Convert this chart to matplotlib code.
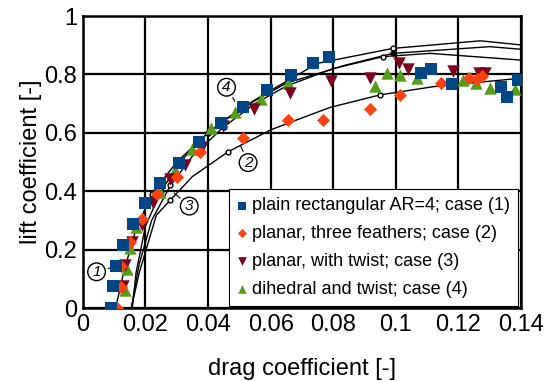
import numpy as np
import matplotlib
matplotlib.use("Agg")
import matplotlib.pyplot as plt

plt.rcParams['font.family'] = ['Liberation Sans', 'DejaVu Sans']

blue_x = [0.009, 0.0095, 0.0106, 0.0129, 0.0161, 0.0198, 0.0247, 0.0308, 0.0372, 0.0441,
          0.0512, 0.0588, 0.0665, 0.0736, 0.0787, 0.108, 0.1111, 0.118, 0.1336, 0.1354, 0.1389]
blue_y = [0.0, 0.074, 0.145, 0.217, 0.288, 0.358, 0.428, 0.498, 0.570, 0.633,
          0.689, 0.745, 0.798, 0.840, 0.861, 0.804, 0.817, 0.766, 0.756, 0.722, 0.781]

orange_x = [0.011, 0.0122, 0.0122, 0.0150, 0.0188, 0.0238, 0.030, 0.0374, 0.0512, 0.0654,
            0.0768, 0.0917, 0.1013, 0.1143, 0.1234, 0.126, 0.1274]
orange_y = [0.0, 0.072, 0.143, 0.225, 0.306, 0.389, 0.45, 0.533, 0.583, 0.644,
            0.644, 0.680, 0.729, 0.772, 0.789, 0.785, 0.796]

maroon_x = [0.0127, 0.0135, 0.0158, 0.019, 0.0225, 0.0278, 0.0325, 0.038, 0.0449, 0.0548,
            0.0662, 0.0793, 0.0917, 0.1010, 0.104, 0.1184, 0.1264, 0.1285]
maroon_y = [0.077, 0.147, 0.227, 0.284, 0.358, 0.442, 0.49, 0.55, 0.625, 0.682,
            0.735, 0.778, 0.789, 0.838, 0.817, 0.812, 0.804, 0.804]

green_x = [0.0135, 0.0140, 0.0150, 0.0170, 0.0246, 0.0293, 0.0349, 0.0411, 0.0486, 0.0570,
           0.0656, 0.0933, 0.0973, 0.1013, 0.1069, 0.1214, 0.1255, 0.1301, 0.1381]
green_y = [0.062, 0.132, 0.204, 0.277, 0.398, 0.471, 0.545, 0.615, 0.672, 0.715,
           0.770, 0.760, 0.804, 0.798, 0.787, 0.781, 0.772, 0.752, 0.749]

labels = ["plain rectangular AR=4; case (1)",
          "planar, three feathers; case (2)",
          "planar, with twist; case (3)",
          "dihedral and twist; case (4)"]

# old reference polars drawn in the background
ca_x = [0.0105, 0.013, 0.017, 0.022, 0.03, 0.04, 0.05, 0.06, 0.075, 0.099, 0.127, 0.14]
ca_y = [0.0, 0.12, 0.27, 0.39, 0.5, 0.6, 0.68, 0.745, 0.838, 0.889, 0.915, 0.901]
cb_x = [0.0155, 0.017, 0.02, 0.025, 0.031, 0.04, 0.05, 0.065, 0.084, 0.099, 0.13, 0.14]
cb_y = [-0.03, 0.12, 0.28, 0.40, 0.5, 0.6, 0.68, 0.77, 0.832, 0.872, 0.895, 0.886]
cc_x = [0.0155, 0.018, 0.022, 0.028, 0.035, 0.045, 0.055, 0.065, 0.08, 0.096, 0.111, 0.14]
cc_y = [0.0, 0.15, 0.30, 0.42, 0.52, 0.62, 0.70, 0.76, 0.82, 0.861, 0.872, 0.849]
c2_x = [0.0155, 0.018, 0.0235, 0.028, 0.035, 0.0464, 0.06, 0.0683, 0.079, 0.095, 0.112, 0.14]
c2_y = [0.0, 0.12, 0.318, 0.37, 0.45, 0.535, 0.61, 0.644, 0.687, 0.73, 0.758, 0.787]

fig = plt.figure(figsize=(5.52, 3.81), dpi=100)
ax = fig.add_axes([0.150, 0.1916, 0.794, 0.7664])

for cx, cy, fill in [(ca_x, ca_y, "white"), (cb_x, cb_y, "black"),
                     (cc_x, cc_y, "white"), (c2_x, c2_y, "white")]:
    ax.plot(cx, cy, color="black", lw=1.0, zorder=2,
            marker="o", ms=3.5, mfc=fill, mec="black", markevery=[3, 5, 9])

# circled case numbers
for txt, xy, xyt in [("1", (0.0097, 0.14), (0.0044, 0.124)),
                     ("2", (0.050, 0.565), (0.0528, 0.498)),
                     ("3", (0.0285, 0.40), (0.034, 0.349)),
                     ("4", (0.049, 0.70), (0.0459, 0.756))]:
    ax.annotate(txt, xy=xy, xytext=xyt, ha="center", va="center", fontsize=11,
                style="italic", zorder=2,
                bbox=dict(boxstyle="circle,pad=0.12", fc="white", ec="black", lw=1.0),
                arrowprops=dict(arrowstyle="-", lw=0.8, color="black"))

ax.scatter(green_x, green_y, marker="^", s=80, color="#579d1c", zorder=3, label=labels[3], linewidths=0)
ax.scatter(maroon_x, maroon_y, marker="v", s=80, color="#7e0021", zorder=4, label=labels[2], linewidths=0)
ax.scatter(orange_x, orange_y, marker="D", s=45, color="#ff420e", zorder=5, label=labels[1], linewidths=0)
ax.scatter(blue_x, blue_y, marker="s", s=80, color="#004586", zorder=6, label=labels[0], linewidths=0)

ax.set_xlim(0, 0.14)
ax.set_ylim(0, 1)
ax.set_xticks(np.arange(0, 0.141, 0.02))
ax.set_yticks(np.arange(0, 1.01, 0.2))
ax.set_xticklabels(["0", "0.02", "0.04", "0.06", "0.08", "0.1", "0.12", "0.14"])
ax.set_yticklabels(["0", "0.2", "0.4", "0.6", "0.8", "1"])
ax.tick_params(length=0, labelsize=17, pad=4)
ax.grid(True, color="black", lw=1.6, zorder=1)
ax.set_axisbelow(True)
for s in ax.spines.values():
    s.set_linewidth(1.8)

ax.set_xlabel("drag coefficient [-]", fontsize=17, labelpad=16)
ax.set_ylabel("lift coefficient [-]", fontsize=17, labelpad=2)

h, l = ax.get_legend_handles_labels()
leg = ax.legend(h[::-1], l[::-1], loc="lower right", bbox_to_anchor=(0.993, 0.007),
                borderaxespad=0, fontsize=13, frameon=True, fancybox=False,
                edgecolor="black", framealpha=1, handlelength=0.5, handletextpad=0.3,
                labelspacing=0.6, borderpad=0.45, markerscale=0.7)
leg.get_frame().set_linewidth(0.8)
leg.set_zorder(10)

fig.savefig("out.png", dpi=100)
